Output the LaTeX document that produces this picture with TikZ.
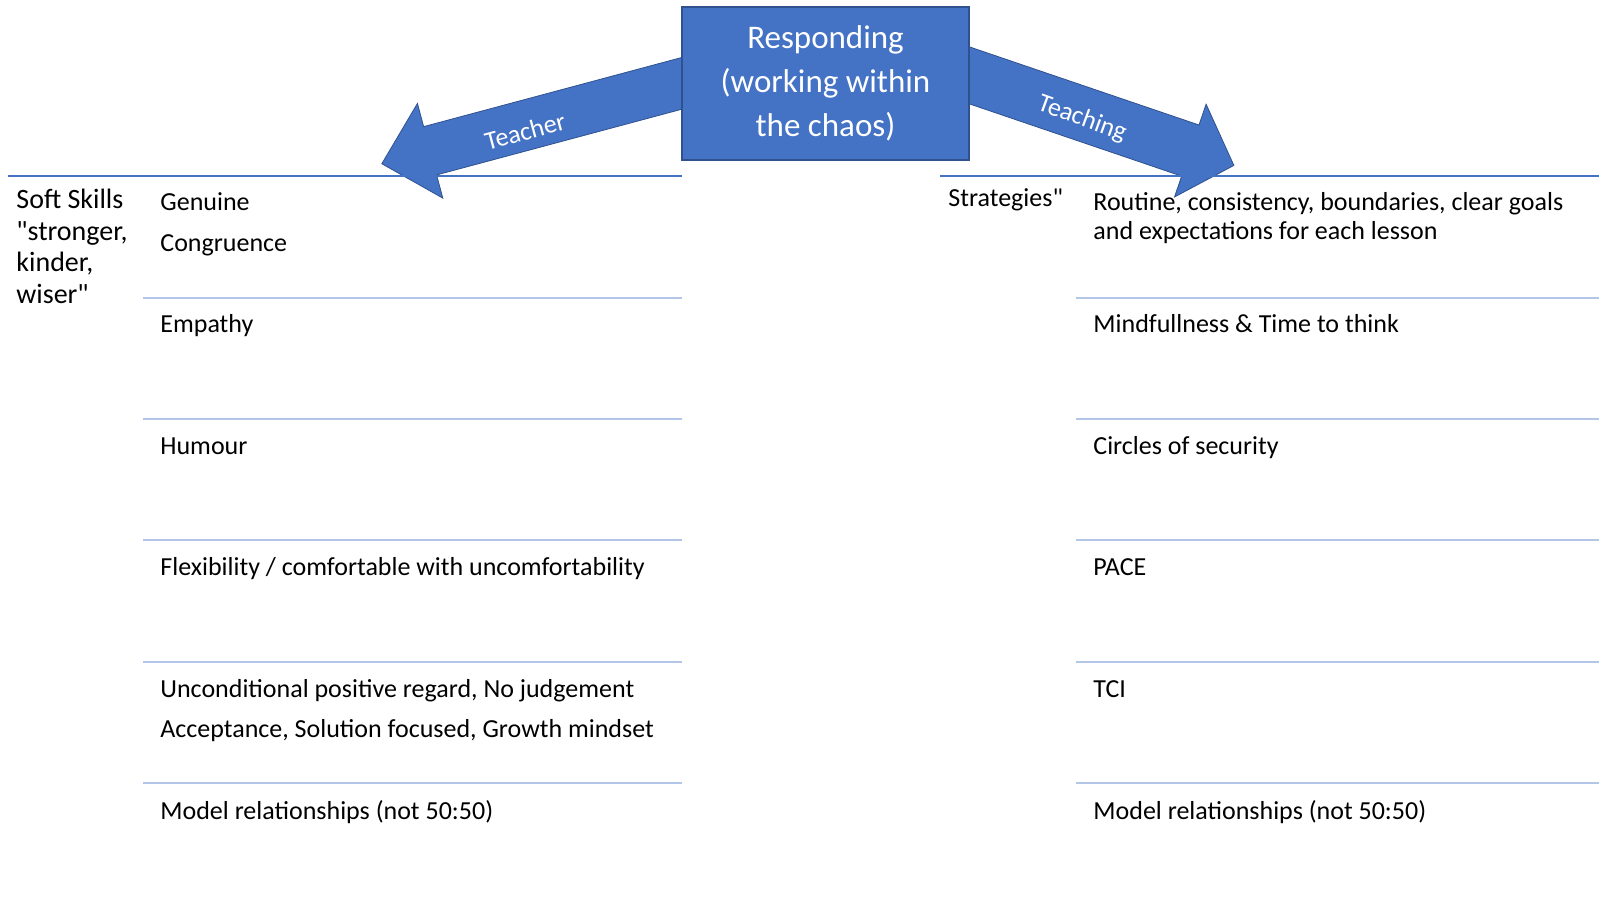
\documentclass[tikz,border=0pt]{standalone}
\usepackage{fontspec}
\setmainfont{Carlito}[Ligatures=TeXOff]
\usepackage{xcolor}
\usetikzlibrary{
    calc,
    backgrounds
}

\definecolor{boxblue}{HTML}{4472C4}
\definecolor{boxedge}{HTML}{2F528F}
\definecolor{rowline}{HTML}{B4C6E7}

\tikzset{
    respbox/.style={draw=boxedge, fill=boxblue, line width=0.75pt, text=white,
        align=center, inner sep=0pt, minimum width=143.5pt, minimum height=76.5pt,
        font=\fontsize{16.5}{22}\selectfont},
    blockarrow/.style={fill=boxblue, draw=boxedge, line width=0.4pt},
    arrowlabel/.style={text=white, inner sep=0pt, font=\fontsize{13}{15}\selectfont},
    cell/.style={anchor=west, inner sep=0pt, text height=9pt, text depth=2.6pt,
        font=\fontsize{13}{15}\selectfont},
    wrapcell/.style={anchor=north west, inner sep=0pt, align=left,
        font=\fontsize{13}{14.75}\selectfont},
    topline/.style={draw=boxblue, line width=1pt},
    rowsep/.style={draw=rowline, line width=0.75pt}
}

\begin{document}
\begin{tikzpicture}[x=0.5pt, y=-0.5pt]
        \useasboundingbox (0,0) rectangle (1599,903);

        \node[respbox] (resp) at (825.5,83.5) {Responding\\(working within\\the chaos)};

        % the two block arrows sit under the box
        \begin{scope}[on background layer]
            \begin{scope}[shift={(resp.west)}, rotate=195]
                \filldraw[blockarrow] (-20,-25) -- (260,-25) -- (260,-49) -- (310,0)
                    -- (260,49) -- (260,25) -- (-20,25) -- cycle;
            \end{scope}
            \begin{scope}[shift={($(resp.east)+(0,-8)$)}, rotate=-18.8]
                \filldraw[blockarrow] (-20,-27) -- (233,-27) -- (233,-49) -- (279,0)
                    -- (233,49) -- (233,27) -- (-20,27) -- cycle;
            \end{scope}
        \end{scope}
        \node[arrowlabel, rotate=15] (teacher) at (525,131) {Teacher};
        \node[arrowlabel, rotate=-20] (teaching) at (1082,119) {Teaching};

        % table rules
        \draw[topline] (8,176) -- (682,176);
        \draw[topline] (940,176) -- (1599,176);
        \foreach \y in {298,419,540,662,783} {
            \draw[rowsep] (143,\y) -- (682,\y);
            \draw[rowsep] (1076,\y) -- (1599,\y);
        }

        % left side
        \node[wrapcell, font=\fontsize{14}{15.75}\selectfont] (soft) at (16,189) {Soft Skills\\"stronger,\\kinder,\\wiser"};
        \node[cell] (genuine) at (160,204) {Genuine};
        \node[cell] (congruence) at (160,245) {Congruence};
        \node[cell] (empathy) at (160,326) {Empathy};
        \node[cell] (humour) at (160,448) {Humour};
        \node[cell] (flex) at (160,569) {Flexibility / comfortable with uncomfortability};
        \node[cell] (regard) at (160,691) {Unconditional positive regard, No judgement};
        \node[cell] (accept) at (160,731) {Acceptance, Solution focused, Growth mindset};
        \node[cell] (modell) at (160,813) {Model relationships (not 50:50)};

        % right side
        \node[cell] (strat) at (948,200) {Strategies"};
        \node[wrapcell] (routine) at (1093,192) {Routine, consistency, boundaries, clear goals\\and expectations for each lesson};
        \node[cell] (mind) at (1093,326) {Mindfullness \& Time to think};
        \node[cell] (circles) at (1093,448) {Circles of security};
        \node[cell] (pace) at (1093,569) {PACE};
        \node[cell] (tci) at (1093,691) {TCI};
        \node[cell] (modelr) at (1093,813) {Model relationships (not 50:50)};
\end{tikzpicture}
\end{document}
